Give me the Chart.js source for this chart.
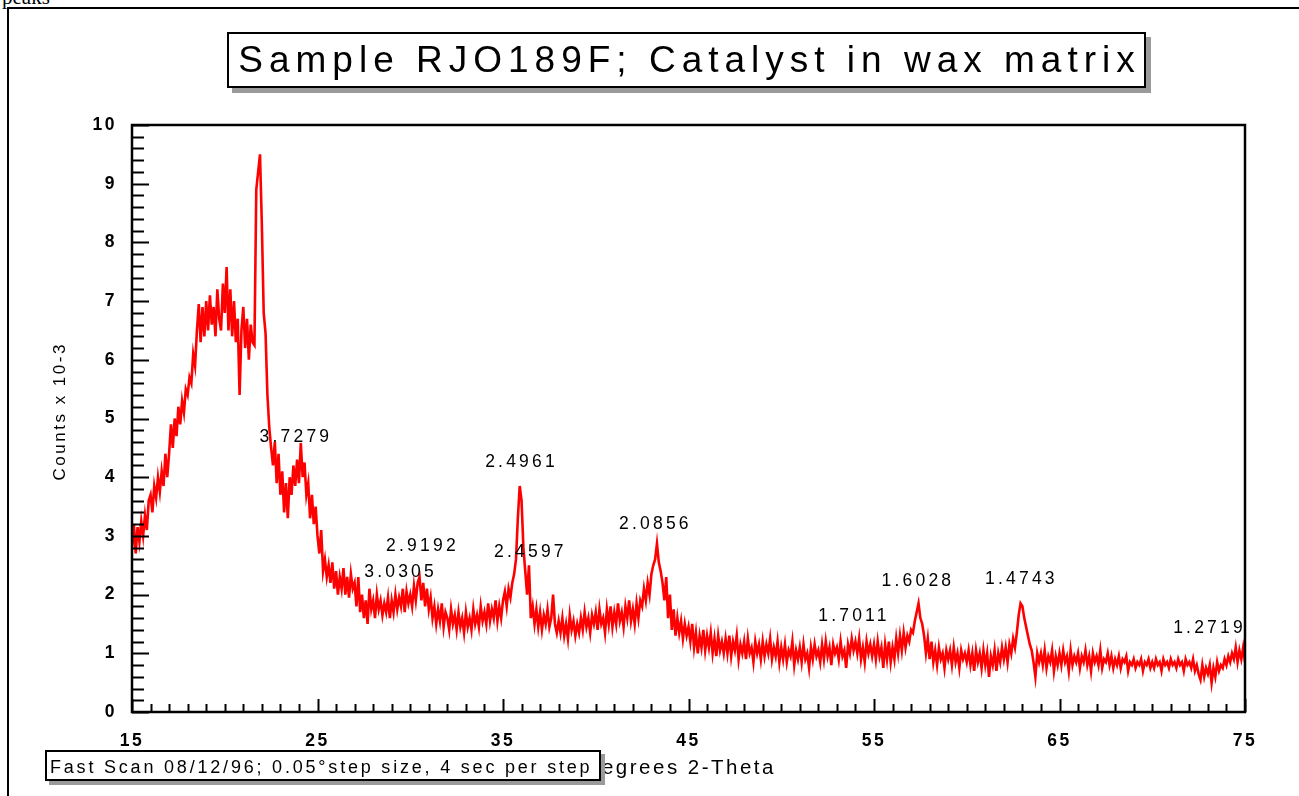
<!DOCTYPE html>
<html>
<head>
<meta charset="utf-8">
<title>Sample RJO189F</title>
<script src="https://cdn.jsdelivr.net/npm/chart.js@4.4.1/dist/chart.umd.min.js"></script>
<style>
  body { margin: 0; background: #fff; width: 1299px; height: 796px; overflow: hidden; position: relative;
         font-family: "Liberation Sans", Arial, sans-serif; color: #000; }
  #frame { position: absolute; left: 7px; top: 7px; width: 1300px; height: 800px;
           border-left: 2px solid #000; border-top: 2px solid #000; }
  #peaks { position: absolute; left: 2px; top: -15px; font-family: "Liberation Serif", serif; font-size: 21px; }
  #chartBox { position: absolute; left: 0; top: 0; width: 1299px; height: 796px; }
  #title { position: absolute; left: 227px; top: 32px; width: 919px; height: 56px; box-sizing: border-box;
           border: 2px solid #000; background: #fff; box-shadow: 5px 5px 0 #9a9a9a;
           font-size: 37px; letter-spacing: 6px; line-height: 52px; text-align: center; padding-left: 6px; }
  #note { position: absolute; left: 45px; top: 750px; width: 556px; height: 31px; box-sizing: border-box;
          border: 2px solid #000; background: #fff; box-shadow: 4px 4px 0 #9a9a9a;
          font-size: 18px; letter-spacing: 2.8px; line-height: 30px; padding-left: 3px; white-space: nowrap; }
</style>
</head>
<body>
<div id="peaks">peaks</div>
<div id="frame"></div>
<div id="chartBox"><canvas id="xrdChart"></canvas></div>
<div id="title">Sample RJO189F; Catalyst in wax matrix</div>
<div id="note">Fast Scan 08/12/96; 0.05°step size, 4 sec per step</div>

<script>
// scan: 15 to 75 degrees 2-theta, every 0.1 deg
const scanStart = 15;
const scanStep = 0.1;

// counts x 10-3
const counts15to25 = [
  2.8, 3.2, 2.7, 3.15, 2.9, 3.25, 3.0, 3.35, 3.1, 3.6,
  3.7, 3.4, 3.85, 3.65, 4.0, 3.75, 4.1, 3.85, 4.4, 4.0,
  4.4, 4.9, 4.5, 5.0, 4.7, 5.2, 4.9, 5.3, 5.1, 5.5,
  5.4, 5.7, 5.6, 6.1, 5.9, 6.5, 6.95, 6.3, 6.9, 6.4,
  7.0, 6.5, 7.1, 6.6, 6.9, 6.4, 7.2, 6.7, 6.5, 7.3,
  6.8, 7.58, 6.5, 7.2, 6.4, 7.0, 6.3, 6.7, 5.4, 6.5,
  6.9, 6.2, 6.7, 6.0, 6.6, 6.3, 6.25, 8.9, 9.2, 9.5,
  8.3, 6.8, 6.45, 5.4, 4.85, 4.5, 4.2, 4.6, 3.9, 4.4,
  3.7, 4.1, 3.4, 3.9, 3.3, 4.0, 3.7, 4.2, 3.85, 4.3,
  3.9, 4.58, 4.0, 4.25, 3.7, 3.9, 3.3, 3.7, 3.2, 3.5
];
const counts25to35 = [
  3.0, 2.7, 3.1, 2.4, 2.6, 2.3, 2.5, 2.2, 2.55, 2.1,
  2.4, 2.0, 2.3, 2.1, 2.45, 2.0, 2.3, 1.95, 2.35, 2.1,
  2.2, 1.8, 2.3, 1.7, 2.0, 1.6, 1.9, 1.5, 2.1, 1.75,
  1.9, 1.6, 2.0, 1.75, 1.9, 1.65, 1.85, 1.7, 1.95, 1.6,
  1.9, 1.7, 2.0, 1.75, 1.95, 1.8, 2.1, 1.7, 2.05, 1.85,
  2.0, 1.8, 2.15, 1.9, 2.2, 2.3, 1.9, 2.2, 1.8, 2.1,
  1.75, 1.95, 1.6, 1.8, 1.5, 1.75, 1.55, 1.85, 1.45, 1.7,
  1.6, 1.4, 1.75, 1.5, 1.65, 1.4, 1.7, 1.45, 1.6, 1.35,
  1.7, 1.45, 1.6, 1.4, 1.75, 1.5, 1.65, 1.45, 1.8, 1.55,
  1.7, 1.5, 1.85, 1.55, 1.75, 1.6, 1.9, 1.55, 1.8, 1.6
];
const counts35to45 = [
  1.9, 2.05, 1.8, 2.1, 1.95, 2.2, 2.35, 2.6, 3.3, 3.85,
  3.6, 2.8, 2.4, 2.0, 2.5, 1.6, 1.8, 1.5, 1.75, 1.45,
  1.7, 1.4, 1.65, 1.5, 1.75, 1.45, 1.6, 2.0, 1.5, 1.35,
  1.55, 1.35, 1.6, 1.3, 1.5, 1.25, 1.65, 1.4, 1.55, 1.3,
  1.5, 1.35, 1.6, 1.4, 1.7, 1.45, 1.6, 1.35, 1.65, 1.5,
  1.7, 1.4, 1.75, 1.5, 1.6, 1.35, 1.75, 1.5, 1.8, 1.45,
  1.7, 1.5, 1.85, 1.55, 1.7, 1.45, 1.8, 1.6, 1.9, 1.55,
  1.75, 1.5, 1.85, 1.6, 1.9, 1.8, 2.1, 1.9, 2.2, 2.0,
  2.35, 2.5, 2.6, 2.87, 2.55, 2.4, 2.2, 1.9, 2.3, 1.6,
  2.0, 1.4, 1.75, 1.3, 1.6, 1.35, 1.55, 1.25, 1.5, 1.3
];
const counts45to55 = [
  1.45, 1.2, 1.5, 1.1, 1.35, 1.0, 1.3, 1.1, 1.4, 1.05,
  1.3, 1.1, 1.35, 1.0, 1.25, 0.95, 1.3, 1.05, 1.2, 1.0,
  1.25, 1.0, 1.3, 0.95, 1.2, 1.05, 1.3, 0.9, 1.15, 1.0,
  1.2, 0.9, 1.25, 1.0, 1.1, 0.85, 1.2, 1.0, 1.15, 0.9,
  1.2, 0.95, 1.15, 1.0, 1.25, 0.9, 1.1, 0.95, 1.2, 0.85,
  1.1, 0.9, 1.15, 0.85, 1.05, 0.95, 1.2, 0.8, 1.05, 0.9,
  1.1, 0.85, 1.15, 0.9, 1.0, 0.75, 1.1, 0.9, 1.15, 0.95,
  1.05, 0.85, 1.15, 0.9, 1.2, 0.95, 1.1, 0.8, 1.15, 1.0,
  1.1, 0.9, 1.2, 0.95, 1.05, 0.75, 1.15, 1.0, 1.25, 1.05,
  1.2, 1.0, 1.25, 0.9, 1.1, 0.85, 1.2, 1.0, 1.15, 0.95
];
const counts55to65 = [
  1.15, 0.9, 1.2, 0.95, 1.1, 0.75, 1.15, 0.9, 1.2, 0.85,
  1.1, 0.9, 1.25, 1.0, 1.3, 1.05, 1.35, 1.1, 1.3, 1.2,
  1.4, 1.35, 1.55, 1.7, 1.85, 1.6, 1.5, 1.3, 1.0, 1.25,
  0.9, 1.2, 0.85, 1.05, 0.8, 1.1, 0.9, 1.0, 0.75, 1.05,
  0.9, 1.05, 0.8, 1.1, 0.85, 1.0, 0.75, 1.05, 0.9, 1.0,
  0.85, 1.05, 0.8, 1.0, 0.7, 1.05, 0.85, 1.0, 0.75, 1.05,
  0.8, 1.0, 0.6, 0.95, 0.8, 1.05, 0.7, 1.0, 0.85, 1.1,
  0.9, 1.1, 0.85, 1.15, 1.0, 1.25, 1.1, 1.35, 1.65, 1.85,
  1.8, 1.6, 1.45, 1.3, 1.15, 1.05, 0.85, 0.6, 1.0, 0.85,
  1.0, 0.8, 1.05, 0.75, 0.95, 0.85, 1.05, 0.7, 0.95, 0.8
];
const counts65to75 = [
  1.0, 0.8, 1.05, 0.85, 0.95, 0.7, 1.05, 0.8, 0.95, 0.85,
  1.0, 0.75, 0.95, 0.85, 1.05, 0.8, 0.95, 0.7, 1.0, 0.85,
  0.95, 0.8, 1.05, 0.75, 0.9, 0.85, 1.0, 0.8, 0.95, 0.75,
  0.9, 0.8, 0.95, 0.75, 0.9, 0.85, 0.95, 0.7, 0.85, 0.8,
  0.9, 0.75, 0.85, 0.8, 0.9, 0.7, 0.85, 0.8, 0.9, 0.75,
  0.85, 0.75, 0.9, 0.8, 0.85, 0.7, 0.9, 0.8, 0.85, 0.75,
  0.9, 0.8, 0.85, 0.75, 0.9, 0.8, 0.85, 0.7, 0.9, 0.8,
  0.85, 0.75, 0.9, 0.7, 0.8, 0.65, 0.55, 0.8, 0.6, 0.75,
  0.65, 0.8, 0.5, 0.75, 0.6, 0.85, 0.7, 0.8, 0.75, 0.9,
  0.8, 0.95, 0.85, 1.0, 0.9, 1.1, 0.85, 1.05, 0.9, 1.1,
  0.85
];

// d-spacing labels and where they sit (2-theta, counts)
const peakLabels = ["3.7279", "2.4961", "2.4597", "2.9192", "3.0305", "2.0856", "1.7011", "1.6028", "1.4743", "1.2719"];
const peakLabelTheta = [23.73, 35.89, 36.37, 30.55, 29.37, 43.11, 53.81, 57.26, 62.84, 72.98];
const peakLabelCounts = [4.68, 4.26, 2.73, 2.83, 2.39, 3.20, 1.64, 2.23, 2.27, 1.43];

const allCounts = [].concat(counts15to25, counts25to35, counts35to45, counts45to55, counts55to65, counts65to75);
const points = allCounts.map((c, i) => ({ x: +(scanStart + i * scanStep).toFixed(2), y: c }));

const FONT = "'Liberation Sans', Arial, sans-serif";
Chart.defaults.color = "#000";
Chart.defaults.font.family = FONT;

const xrdFrame = {
  id: "xrdFrame",
  beforeDraw(chart) {
    chart.ctx.letterSpacing = "2.5px";
  },
  afterDatasetsDraw(chart) {
    const { ctx, scales: { x, y } } = chart;
    ctx.save();
    ctx.letterSpacing = "3.2px";
    ctx.font = "17.5px " + FONT;
    ctx.fillStyle = "#000";
    ctx.textAlign = "center";
    ctx.textBaseline = "middle";
    peakLabels.forEach((txt, i) => {
      ctx.fillText(txt, x.getPixelForValue(peakLabelTheta[i]) + 2, y.getPixelForValue(peakLabelCounts[i]));
    });
    ctx.restore();
  },
  afterDraw(chart) {
    const { ctx, chartArea: a, scales: { x, y } } = chart;
    ctx.save();
    ctx.strokeStyle = "#000";
    ctx.lineWidth = 2;
    ctx.beginPath();
    y.ticks.forEach((t, i) => {
      const py = Math.round(y.getPixelForTick(i)) + 0.5;
      const len = Number.isInteger(t.value) ? 17 : 12;
      ctx.moveTo(a.left, py);
      ctx.lineTo(a.left + len, py);
    });
    x.ticks.forEach((t, i) => {
      const px = Math.round(x.getPixelForTick(i)) + 0.5;
      const len = (t.value - 15) % 10 === 0 ? 13 : 8;
      ctx.moveTo(px, a.bottom);
      ctx.lineTo(px, a.bottom - len);
    });
    ctx.stroke();
    ctx.lineWidth = 2.5;
    ctx.strokeRect(a.left, a.top, a.right - a.left, a.bottom - a.top);
    ctx.restore();
    ctx.letterSpacing = "0px";
  }
};

const ctx = document.getElementById("xrdChart").getContext("2d");
const xrdChart = new Chart(ctx, {
  type: "line",
  data: {
    datasets: [{
      label: "RJO189F",
      data: points,
      borderColor: "#ff0000",
      borderWidth: 2.6,
      pointRadius: 0,
      tension: 0,
      fill: false
    }]
  },
  options: {
    responsive: true,
    maintainAspectRatio: false,
    animation: false,
    events: [],
    layout: { padding: { top: 125, right: 54, bottom: 0, left: 0 } },
    plugins: { legend: { display: false }, tooltip: { enabled: false } },
    scales: {
      x: {
        type: "linear",
        min: 15,
        max: 75,
        grid: { display: false },
        border: { display: false },
        ticks: {
          stepSize: 1,
          autoSkip: false,
          maxRotation: 0,
          padding: 11,
          font: { size: 17.5, weight: "bold" },
          callback: (v) => ((v - 15) % 10 === 0 ? String(v) : "")
        },
        title: { display: true, text: "Degrees 2-Theta  ", font: { size: 20.5 }, padding: { top: 0, bottom: 15 } },
        afterFit: (s) => { s.height = 84; }
      },
      y: {
        min: 0,
        max: 10,
        grid: { display: false },
        border: { display: false },
        ticks: {
          stepSize: 0.2,
          maxTicksLimit: 1000,
          autoSkip: false,
          padding: 7,
          font: { size: 17.5, weight: "bold" },
          callback: (v) => (Number.isInteger(v) ? String(v) : "")
        },
        title: { display: true, text: "  Counts x 10-3", font: { size: 17 }, padding: { top: 50, bottom: 0 } },
        afterFit: (s) => { s.width = 132; }
      }
    }
  },
  plugins: [xrdFrame]
});
</script>
</body>
</html>
